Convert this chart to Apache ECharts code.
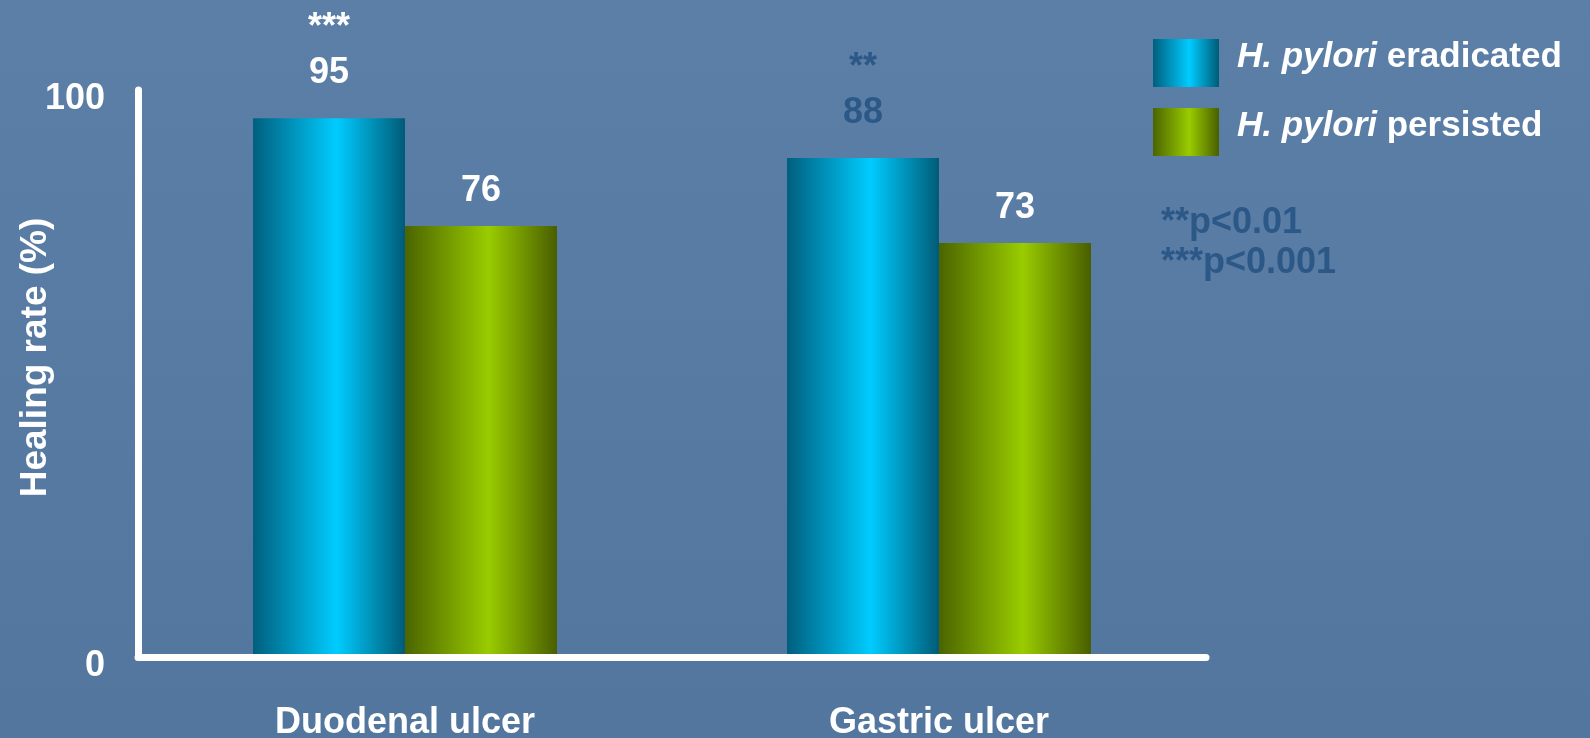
<!DOCTYPE html>
<html>
<head>
<meta charset="utf-8">
<title>Healing rate by H. pylori status</title>
<script src="https://cdn.jsdelivr.net/npm/echarts@6/dist/echarts.min.js"></script>
<style>
  html, body { margin: 0; padding: 0; width: 1590px; height: 738px; overflow: hidden; }
  #chart { width: 1590px; height: 738px; }
</style>
</head>
<body>
<div id="chart"></div>
<script>
// Ulcer types on the category axis
const categories = ['Duodenal ulcer', 'Gastric ulcer'];
// Healing rates (%)
const eradicated = [95, 88];
const persisted = [76, 73];
// Significance of eradicated vs persisted
const eradicatedSig = ['***', '**'];
const seriesNames = ['H. pylori eradicated', 'H. pylori persisted'];
const yTicks = [0, 100];
const footnotes = ['**p<0.01', '***p<0.001'];

const FONT = '"Liberation Sans", Arial, Helvetica, sans-serif';
const WHITE = '#ffffff';
const NAVY = '#2c5888';

function barGradient(edgeL, mid, edgeR) {
  return new echarts.graphic.LinearGradient(0, 0, 1, 0, [
    { offset: 0, color: edgeL },
    { offset: 0.55, color: mid },
    { offset: 1, color: edgeR }
  ]);
}

// label tone per category for each series (white or navy)
const eradicatedTone = ['w', 'd'];
const persistedTone = ['w', 'w'];

const valueRich = {
  w: { fontFamily: FONT, fontWeight: 'bold', fontSize: 36, color: WHITE, lineHeight: 44 },
  d: { fontFamily: FONT, fontWeight: 'bold', fontSize: 36, color: NAVY, lineHeight: 44 },
  sw: { fontFamily: FONT, fontWeight: 'bold', fontSize: 36, color: WHITE, lineHeight: 46 },
  sd: { fontFamily: FONT, fontWeight: 'bold', fontSize: 36, color: NAVY, lineHeight: 46 }
};

const chart = echarts.init(document.getElementById('chart'), null, { renderer: 'canvas' });

chart.setOption({
  backgroundColor: new echarts.graphic.LinearGradient(0, 0, 0, 1, [
    { offset: 0, color: '#5c7fa7' },
    { offset: 1, color: '#53769e' }
  ]),
  animation: false,
  textStyle: { fontFamily: FONT },
  grid: {
    left: 138, right: 384, top: 90, bottom: 81,
    containLabel: false,
    outerBoundsMode: 'none'
  },
  legend: {
    orient: 'vertical',
    left: 1153,
    top: 39,
    padding: 0,
    itemWidth: 66,
    itemHeight: 48,
    itemGap: 21,
    icon: 'rect',
    selectedMode: false,
    data: seriesNames,
    formatter: name => '{i|H. pylori }{n|' + name.replace('H. pylori ', '') + '}',
    textStyle: {
      padding: [0, 0, 12, 13],
      rich: {
        i: { fontFamily: FONT, fontWeight: 'bold', fontStyle: 'italic', fontSize: 35, color: WHITE },
        n: { fontFamily: FONT, fontWeight: 'bold', fontSize: 35, color: WHITE }
      }
    }
  },
  xAxis: {
    type: 'category',
    data: categories,
    offset: 7,
    z: 3,
    axisLine: { show: true, lineStyle: { color: WHITE, width: 7 } },
    axisTick: { show: false },
    axisLabel: {
      margin: 41,
      fontFamily: FONT, fontWeight: 'bold', fontSize: 36, color: WHITE
    },
    splitLine: { show: false }
  },
  yAxis: {
    type: 'value',
    min: yTicks[0],
    max: yTicks[yTicks.length - 1],
    interval: yTicks[yTicks.length - 1] - yTicks[0],
    z: 3,
    name: 'Healing rate (%)',
    nameLocation: 'middle',
    nameGap: 84,
    nameMoveOverlap: false,
    nameTextStyle: {
      fontFamily: FONT, fontWeight: 'bold', fontSize: 37, color: WHITE,
      padding: [0, 0, 0, 32]
    },
    axisLine: { show: true, lineStyle: { color: WHITE, width: 7 } },
    axisTick: { show: false },
    splitLine: { show: false },
    axisLabel: {
      margin: 33,
      formatter: '{v|{value}}',
      rich: {
        v: {
          fontFamily: FONT, fontWeight: 'bold', fontSize: 36, color: WHITE,
          padding: [18, 0, 0, 0]
        }
      }
    }
  },
  series: [
    {
      name: seriesNames[0],
      type: 'bar',
      data: eradicated,
      barWidth: 152,
      barGap: '0%',
      itemStyle: { color: barGradient('#005f7e', '#00ccff', '#005b77') },
      label: {
        show: true,
        position: 'top',
        distance: 23,
        formatter: p => {
          const t = eradicatedTone[p.dataIndex];
          return '{s' + t + '|' + eradicatedSig[p.dataIndex] + '}\n{' + t + '|' + p.value + '}';
        },
        rich: valueRich
      }
    },
    {
      name: seriesNames[1],
      type: 'bar',
      data: persisted,
      barWidth: 152,
      barGap: '0%',
      itemStyle: { color: barGradient('#4b6400', '#99cc00', '#495e00') },
      label: {
        show: true,
        position: 'top',
        distance: 13,
        formatter: p => '{' + persistedTone[p.dataIndex] + '|' + p.value + '}',
        rich: valueRich
      }
    }
  ],
  graphic: [
    {
      type: 'text',
      left: 1161,
      top: 203,
      style: {
        text: footnotes.join('\n'),
        fontFamily: FONT,
        fontWeight: 'bold',
        fontSize: 36,
        lineHeight: 40,
        fill: NAVY
      }
    }
  ]
});
</script>
</body>
</html>
